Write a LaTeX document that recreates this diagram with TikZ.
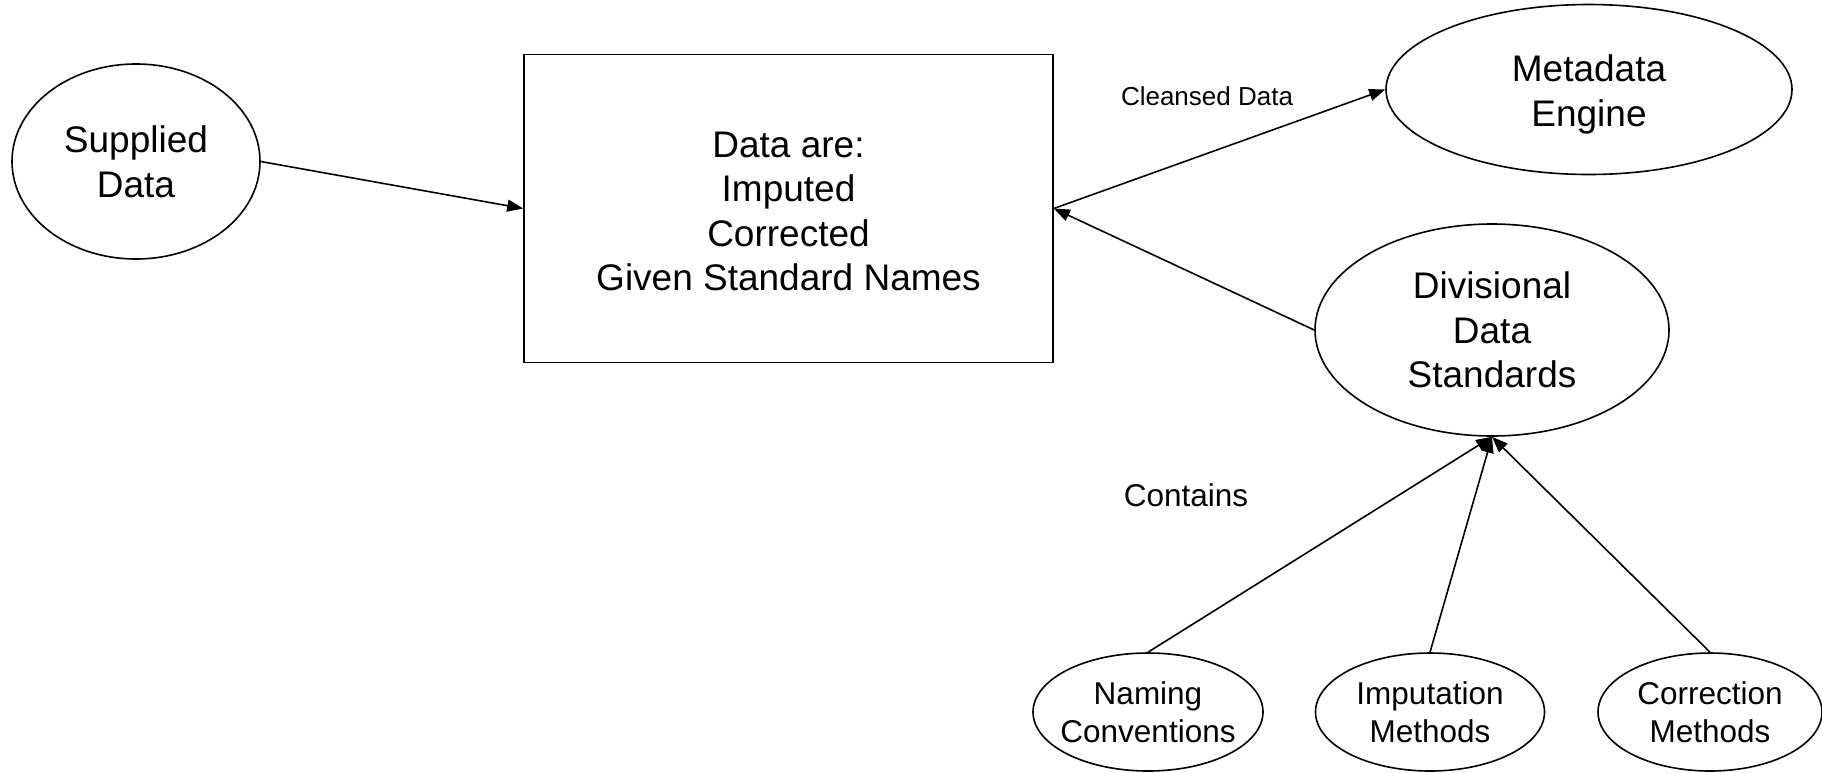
\documentclass[tikz,border=0pt]{standalone}
\usepackage{fontspec}
\setmainfont{Liberation Sans}
\usetikzlibrary{shapes.geometric,arrows.meta}
\begin{document}
\begin{tikzpicture}[x=1pt,y=-1pt,
  line width=1.6pt,
  bigtext/.style={font=\fontsize{37}{44.6}\selectfont, align=center},
  smalltext/.style={font=\fontsize{31.5}{38}\selectfont, align=center},
  oval/.style={draw, ellipse, inner sep=0pt},
  flow/.style={-{Triangle[length=16pt,width=12pt]}}
]
\useasboundingbox (0,0) rectangle (1822,772);

% data sources and processing box
\node[oval, bigtext, minimum width=248pt, minimum height=195pt] (sup) at (136,161.5) {Supplied\\Data};
\node[draw, minimum width=529pt, minimum height=308pt, inner sep=0pt] (box) at (788.5,208.5) {};
\node[bigtext] (boxtxt) at ([yshift=-3pt]box.center) {Data are:\\Imputed\\Corrected\\Given Standard Names};
\node[oval, minimum width=406pt, minimum height=170pt] (meta) at (1589,89.5) {};
\node[bigtext] (metatxt) at ([yshift=-5pt]meta.center) {Metadata\\Engine};
\node[oval, bigtext, minimum width=354pt, minimum height=212pt] (div) at (1492,330) {Divisional\\Data\\Standards};

% components of the standards
\node[oval, minimum width=230pt, minimum height=118pt] (nam) at (1148,712) {};
\node[smalltext] (namtxt) at (nam.center) {Naming\\Conventions};
\node[oval, minimum width=229pt, minimum height=118pt] (imp) at (1430,712) {};
\node[smalltext] (imptxt) at (imp.center) {Imputation\\Methods};
\node[oval, minimum width=224pt, minimum height=118pt] (cor) at (1710,712) {};
\node[smalltext] (cortxt) at (cor.center) {Correction\\Methods};

% labels
\node[font=\fontsize{26}{31}\selectfont] (lblclean) at (1207,96) {Cleansed Data};
\node[smalltext] (lblcont) at (1186,495) {Contains};

% connectors
\draw[flow] (sup.east) -- (box.west);
\draw[flow] (box.east) -- (meta.west);
\draw[flow] (div.west) -- (box.east);
\draw[flow] (nam.north) -- (div.south);
\draw[flow] (imp.north) -- (div.south);
\draw[flow] (cor.north) -- (div.south);
\end{tikzpicture}
\end{document}
